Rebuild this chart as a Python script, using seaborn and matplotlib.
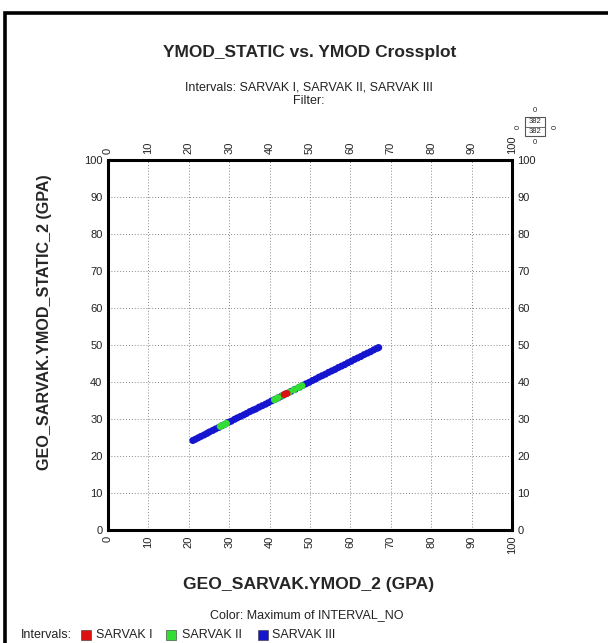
import matplotlib
matplotlib.use("Agg")
import matplotlib.pyplot as plt
from matplotlib.patches import Rectangle
import seaborn as sns
import pandas as pd

sns.set_style("white")
plt.rcParams['font.family'] = ['Liberation Sans', 'DejaVu Sans']

# ---- data ----
blue_x = [21.0, 21.6, 22.3, 23.0, 23.8, 24.5, 25.1, 25.9, 26.6, 27.4, 28.2, 29.0, 29.8, 30.5,
          31.3, 32.0, 32.8, 33.6, 34.3, 35.1, 35.9, 36.6, 37.4, 38.2, 39.0, 39.7, 40.5, 41.3,
          42.1, 43.0, 44.0, 45.2, 46.3, 47.4, 48.2, 49.0, 49.8, 50.6, 51.4, 52.2, 53.0, 53.8,
          54.6, 55.4, 56.2, 57.0, 57.8, 58.6, 59.4, 60.2, 61.0, 61.8, 62.6, 63.4, 64.2, 65.0,
          65.8, 66.6, 67.0]
blue_y = [24.2, 24.5, 24.9, 25.3, 25.7, 26.1, 26.5, 26.9, 27.3, 27.7, 28.2, 28.6, 29.1, 29.4,
          29.9, 30.3, 30.7, 31.1, 31.5, 32.0, 32.4, 32.7, 33.2, 33.6, 34.0, 34.4, 34.9, 35.3,
          35.7, 36.2, 36.8, 37.4, 38.0, 38.6, 39.1, 39.5, 39.9, 40.4, 40.8, 41.3, 41.7, 42.1,
          42.6, 43.0, 43.4, 43.9, 44.3, 44.7, 45.2, 45.6, 46.1, 46.5, 46.9, 47.4, 47.8, 48.2,
          48.7, 49.1, 49.3]
green_x = [27.8, 28.6, 29.3, 41.2, 42.0, 43.3, 44.8, 46.0, 47.2, 48.0]
green_y = [28.0, 28.4, 28.8, 35.2, 35.7, 36.4, 37.2, 37.9, 38.5, 39.0]
red_x = [43.6, 44.3]
red_y = [36.6, 36.9]

intervals = ["SARVAK I", "SARVAK II", "SARVAK III"]
interval_colors = ["#dd1111", "#33dd33", "#1515d0"]
ticks = [0, 10, 20, 30, 40, 50, 60, 70, 80, 90, 100]

df = pd.DataFrame({
    "x": blue_x + green_x + red_x,
    "y": blue_y + green_y + red_y,
    "interval": ["SARVAK III"] * len(blue_x) + ["SARVAK II"] * len(green_x) + ["SARVAK I"] * len(red_x),
})

W, H = 608, 643
fig = plt.figure(figsize=(W / 100, H / 100), dpi=100)

def fx(px):
    return px / W

def fy(py):
    return 1 - py / H

ax = fig.add_axes([fx(108), fy(530), fx(512) - fx(108), fy(160) - fy(530)])
sns.scatterplot(data=df, x="x", y="y", hue="interval", hue_order=intervals,
                palette=dict(zip(intervals, interval_colors)), s=26, linewidth=0,
                legend=False, ax=ax, zorder=3)
ax.set_xlim(0, 100)
ax.set_ylim(0, 100)
ax.set_xticks(ticks)
ax.set_yticks(ticks)
ax.set_xticklabels([str(t) for t in ticks], rotation=90, fontsize=8, color="#222222")
ax.set_yticklabels([str(t) for t in ticks], fontsize=8, color="#222222")
ax.tick_params(axis="both", length=0, pad=4,
               top=True, labeltop=True, right=True, labelright=True)
ax.grid(True, linestyle=(0, (1, 2)), color="#888888", linewidth=0.7)
for sp in ax.spines.values():
    sp.set_linewidth(2.2)
    sp.set_color("black")
ax.set_xlabel("")
ax.set_ylabel("")

# titles and labels
fig.text(fx(310), fy(53), "YMOD_STATIC vs. YMOD Crossplot", ha="center", va="center",
         fontsize=12.5, fontweight="bold")
fig.text(fx(309), fy(88), "Intervals: SARVAK I, SARVAK II, SARVAK III", ha="center",
         va="center", fontsize=9, color="#222222")
fig.text(fx(309), fy(100.5), "Filter:", ha="center", va="center", fontsize=9, color="#222222")
fig.text(fx(45), fy(322), "GEO_SARVAK.YMOD_STATIC_2 (GPA)", ha="center", va="center",
         rotation=90, fontsize=11.6, fontweight="bold")
fig.text(fx(309), fy(585), "GEO_SARVAK.YMOD_2 (GPA)", ha="center", va="center",
         fontsize=12.6, fontweight="bold")
fig.text(fx(307), fy(615), "Color: Maximum of INTERVAL_NO", ha="center", va="center",
         fontsize=9, color="#222222")

# small count box (top right)
fig.patches.append(Rectangle((fx(525), fy(136)), fx(545) - fx(525), fy(117) - fy(136),
                             transform=fig.transFigure, fill=False, edgecolor="#555555",
                             linewidth=0.8))
fig.lines.append(plt.Line2D([fx(525), fx(545)], [fy(126.5), fy(126.5)],
                            transform=fig.transFigure, color="#555555", linewidth=0.6))
fig.text(fx(535), fy(121.5), "382", ha="center", va="center", fontsize=5.5)
fig.text(fx(535), fy(131.5), "382", ha="center", va="center", fontsize=5.5)
fig.text(fx(535), fy(110), "0", ha="center", va="center", fontsize=5.5)
fig.text(fx(535), fy(143), "0", ha="center", va="center", fontsize=5.5)
fig.text(fx(518), fy(126.5), "0", ha="center", va="center", fontsize=5.5, rotation=90)
fig.text(fx(555), fy(126.5), "0", ha="center", va="center", fontsize=5.5, rotation=90)

# legend
fig.text(fx(21), fy(635), "Intervals:", ha="left", va="center", fontsize=9, color="#222222")
leg_sq_x = [81, 166, 258]
leg_tx_x = [96, 182, 272]
for name, col, sx, tx in zip(intervals, interval_colors, leg_sq_x, leg_tx_x):
    fig.patches.append(Rectangle((fx(sx), fy(640)), fx(10), 10 / H, transform=fig.transFigure,
                                 facecolor=col, edgecolor="#333333", linewidth=0.4))
    fig.text(fx(tx), fy(635), name, ha="left", va="center", fontsize=9, color="#222222")

# outer frame
fig.patches.append(Rectangle((fx(5), -0.1), 1.1, fy(13) + 0.1, transform=fig.transFigure,
                             fill=False, edgecolor="black", linewidth=2.6))

fig.savefig("out.png", dpi=100)
